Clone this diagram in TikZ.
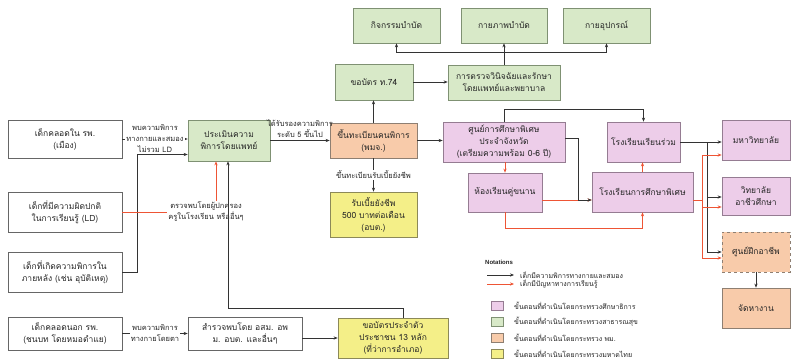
\documentclass[tikz,border=0pt]{standalone}
\usepackage{fontspec}
\newfontfamily\thai[Script=Thai]{Loma}
\newfontfamily\latinsans{Liberation Sans}
\usetikzlibrary{arrows.meta,calc}
\definecolor{gfill}{HTML}{D8E9C8}
\definecolor{gdraw}{HTML}{7F9173}
\definecolor{pfill}{HTML}{EDCDE9}
\definecolor{pdraw}{HTML}{957C92}
\definecolor{ofill}{HTML}{F8CBAA}
\definecolor{odraw}{HTML}{8E7F72}
\definecolor{yfill}{HTML}{F4EF88}
\definecolor{ydraw}{HTML}{8C8958}
\definecolor{redln}{HTML}{EE5535}
\tikzset{
  base/.style={draw=black!55, line width=0.7pt, align=center, inner sep=1pt,
    font=\thai\fontsize{8.5}{12}\selectfont, text=black!85},
  gbox/.style={base, fill=gfill, draw=gdraw},
  pbox/.style={base, fill=pfill, draw=pdraw},
  obox/.style={base, fill=ofill, draw=odraw},
  ybox/.style={base, fill=yfill, draw=ydraw},
  wbox/.style={base, fill=white, draw=black!60},
  lbl/.style={font=\thai\fontsize{7.5}{11}\selectfont, align=center, text=black!85, inner sep=1pt, fill=white},
  legtxt/.style={font=\thai\fontsize{7}{9}\selectfont, text=black!85, anchor=west, inner sep=0pt},
  blkarr/.style={draw=black!80, line width=0.6pt, -{Stealth[length=4pt,width=3.2pt]}},
  redarr/.style={draw=redln, line width=0.7pt, -{Stealth[length=4pt,width=3.2pt]}},
  redline/.style={draw=redln, line width=0.7pt},
}
\begin{document}
\begin{tikzpicture}[x=1pt,y=-1pt]
\useasboundingbox (0,0) rectangle (793,364);
\fill[white] (0,0) rectangle (793,364);

% left column
\node[wbox, minimum width=114pt, minimum height=38pt] (b1) at (65,139) {เด็กคลอดใน รพ.\\(เมือง)};
\node[wbox, minimum width=114pt, minimum height=40pt] (b2) at (65,212) {เด็กที่มีความผิดปกติ\\ในการเรียนรู้ (LD)};
\node[wbox, minimum width=114pt, minimum height=40pt] (b3) at (65,272) {เด็กที่เกิดความพิการใน\\ภายหลัง (เช่น อุบัติเหตุ)};
\node[wbox, minimum width=114pt, minimum height=33pt] (b4) at (65,333.5) {เด็กคลอดนอก รพ.\\(ชนบท โดยหมอตำแย)};

% green (health)
\node[gbox, minimum width=82pt, minimum height=41pt] (eval) at (229,140.5) {ประเมินความ\\พิการโดยแพทย์};
\node[gbox, minimum width=78pt, minimum height=36pt] (t74) at (374,82) {ขอบัตร ท.74};
\node[gbox, minimum width=112pt, minimum height=35pt] (diag) at (504,82.5) {การตรวจวินิจฉัยและรักษา\\โดยแพทย์และพยาบาล};
\node[gbox, minimum width=87pt, minimum height=35pt] (g1) at (396.5,25.5) {กิจกรรมบำบัด};
\node[gbox, minimum width=86pt, minimum height=35pt] (g2) at (504,25.5) {กายภาพบำบัด};
\node[gbox, minimum width=87pt, minimum height=35pt] (g3) at (606.5,25.5) {กายอุปกรณ์};

% orange / yellow
\node[obox, minimum width=87pt, minimum height=35pt] (reg) at (373.5,140.5) {ขึ้นทะเบียนคนพิการ\\(พมจ.)};
\node[ybox, minimum width=87pt, minimum height=45pt] (allow) at (373.5,214.5) {รับเบี้ยยังชีพ\\500 บาทต่อเดือน\\(อบต.)};
\node[wbox, minimum width=114pt, minimum height=33pt] (survey) at (245,333.5) {สำรวจพบโดย อสม. อพ\\ม. อบต. และอื่นๆ};
\node[ybox, minimum width=110pt, minimum height=40pt] (idcard) at (393,338) {ขอบัตรประจำตัว\\ประชาชน 13 หลัก\\(ที่ว่าการอำเภอ)};

% pink (education)
\node[pbox, minimum width=122pt, minimum height=40pt] (sec) at (504,142) {ศูนย์การศึกษาพิเศษ\\ประจำจังหวัด\\(เตรียมความพร้อม 0-6 ปี)};
\node[pbox, minimum width=74pt, minimum height=39pt] (par) at (505,192.5) {ห้องเรียนคู่ขนาน};
\node[pbox, minimum width=73pt, minimum height=40pt] (inc) at (643.5,142) {โรงเรียนเรียนร่วม};
\node[pbox, minimum width=101pt, minimum height=40pt] (spe) at (642.5,192) {โรงเรียนการศึกษาพิเศษ};
\node[pbox, minimum width=68pt, minimum height=40pt] (uni) at (756,140) {มหาวิทยาลัย};
\node[pbox, minimum width=68pt, minimum height=38pt] (voc) at (756,196) {วิทยาลัย\\อาชีวศึกษา};
\node[obox, dashed, minimum width=68pt, minimum height=40pt] (train) at (756,252) {ศูนย์ฝึกอาชีพ};
\node[obox, minimum width=68pt, minimum height=40pt] (job) at (756,308) {จัดหางาน};

% connectors: left part
\draw[blkarr] (b1.east) -- (eval.west |- b1.east) node[lbl, pos=0.5] {พบความพิการ\\ทางกายและสมอง\\ไม่รวม LD};
\draw[blkarr] (b3.east) -- ++(15,0) |- ([yshift=-14pt]eval.west);
\node[lbl] (l2) at (206,212) {ตรวจพบโดยผู้ปกครอง\\ครูในโรงเรียน หรืออื่นๆ};
\draw[redline] (b2.east) -- (l2.west);
\coordinate (rx) at ([xshift=-13pt]eval.south);
\draw[redarr] (l2.north -| rx) -- (rx);
\draw[blkarr] ([xshift=10pt]idcard.north) -- ++(0,-9) -| ([xshift=-1pt]eval.south);
\draw[blkarr] (b4.east) -- (survey.west) node[lbl, midway] {พบความพิการ\\ทางกายโดยตา};
\draw[blkarr] (survey.east |- idcard.west) -- (idcard.west);

% health / registration
\draw[blkarr] (eval.east) -- (reg.west |- eval.east) node[lbl, midway, above=2pt, fill=none] {ได้รับรองความพิการ\\ระดับ 5 ขึ้นไป};
\draw[blkarr] (reg.north) -- (reg.north |- t74.south);
\draw[blkarr] (t74.east) -- (diag.west |- t74.east);
\draw[blkarr] (diag.north) -- (g2.south);
\draw[blkarr] (diag.north) -- ++(0,-12) -| (g1.south);
\draw[blkarr] (diag.north) -- ++(0,-12) -| (g3.south);
\draw[blkarr] (reg.south) -- (reg.south |- allow.north) node[lbl, pos=0.5] {ขึ้นทะเบียนรับเบี้ยยังชีพ};
\draw[blkarr] (reg.east) -- (sec.west |- reg.east);

% education
\draw[blkarr] (sec.north) -- ++(0,-12) -| (inc.north);
\draw[redarr] (sec.south -| par.north) -- (par.north);
\draw[redarr] ([yshift=-7.5pt]par.east) -- ([yshift=-8pt]spe.west);
\draw[blkarr] ([yshift=4pt]sec.east) -- ++(13,0) |- ([yshift=-8pt]spe.west);
\draw[redarr] (par.south) -- ++(0,16) -| (spe.south);
\draw[redarr] (spe.north) -- (spe.north |- inc.south);
\draw[blkarr] (inc.east) -- (uni.west |- inc.east);
\draw[blkarr] (inc.east) -- ++(27,0) |- ([yshift=-1pt]voc.west);
\draw[blkarr] (inc.east) -- ++(27,0) |- (train.west);
\draw[redarr] ([yshift=-8pt]spe.east) -- ++(9,0) |- ([yshift=-15pt]uni.west);
\draw[redarr] ([yshift=-8pt]spe.east) -- ++(9,0) |- ([yshift=-11pt]voc.west);
\draw[redarr] ([yshift=-8pt]spe.east) -- ++(9,0) |- ([yshift=-6pt]train.west);
\draw[blkarr] (train.south) -- (job.north);

% legend
\node[anchor=west, inner sep=0pt, font=\latinsans\bfseries\fontsize{6}{7}\selectfont, text=black!85] (nt) at (485,262) {Notations};
\coordinate (la1) at (487,275); \coordinate (lb1) at (514,275);
\coordinate (la2) at (487,284); \coordinate (lb2) at (514,284);
\draw[blkarr] (la1) -- (lb1);
\draw[redarr] (la2) -- (lb2);
\node[legtxt] (lt1) at (520,275) {เด็กมีความพิการทางกายและสมอง};
\node[legtxt] (lt2) at (520,284) {เด็กมีปัญหาทางการเรียนรู้};
\node[pbox, minimum width=12pt, minimum height=9pt] (sq1) at (497,306) {};
\node[gbox, minimum width=12pt, minimum height=9pt] (sq2) at (497,322) {};
\node[obox, minimum width=12pt, minimum height=9pt] (sq3) at (497,338) {};
\node[ybox, minimum width=12pt, minimum height=9pt] (sq4) at (497,354) {};
\node[legtxt] (st1) at (514,306) {ขั้นตอนที่ดำเนินโดยกระทรวงศึกษาธิการ};
\node[legtxt] (st2) at (514,322) {ขั้นตอนที่ดำเนินโดยกระทรวงสาธารณสุข};
\node[legtxt] (st3) at (514,338) {ขั้นตอนที่ดำเนินโดยกระทรวง พม.};
\node[legtxt] (st4) at (514,354) {ขั้นตอนที่ดำเนินโดยกระทรวงมหาดไทย};
\end{tikzpicture}
\end{document}
